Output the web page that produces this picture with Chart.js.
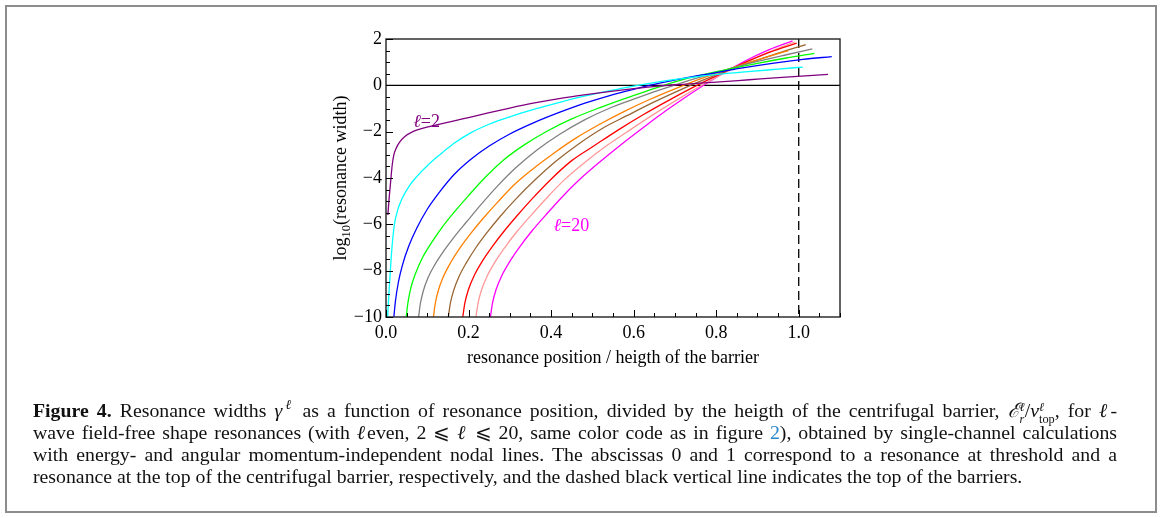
<!DOCTYPE html>
<html><head><meta charset="utf-8">
<script src="https://cdn.jsdelivr.net/npm/chart.js@4/dist/chart.umd.min.js"></script>
<style>
html,body{margin:0;padding:0;background:#fff;}
body{width:1165px;height:518px;position:relative;overflow:hidden;}
#box{position:absolute;left:5px;top:5px;width:1148px;height:504px;border:2px solid #8c8c8c;}
#c{position:absolute;left:0;top:0;}
#cap{position:absolute;left:33px;top:399px;width:1084px;font-family:'Liberation Serif','Times New Roman',serif;font-size:19.8px;line-height:22px;color:#111;}
.j,.l{height:22px;overflow:visible;white-space:normal;}
.j{text-align:justify;text-align-last:justify;}
.l{text-align:left;}
sup{font-size:0.68em;line-height:0;vertical-align:0.6em;}
.ss{display:inline-block;font-size:0.62em;line-height:0.95em;vertical-align:-0.45em;text-align:left;}
.sym{line-height:0;}
.lnk{color:#2a86c8;}
</style></head>
<body>
<div id="box"></div>
<canvas id="c" width="1165" height="518"></canvas>
<div id="cap">
<div class="j"><b>Figure 4.</b> Resonance widths <i>γ</i><sup><i>ℓ</i></sup> as a function of resonance position, divided by the heigth of the centrifugal barrier, <i>ℰ</i><span class="ss"><i>ℓ</i><br><i>r</i></span>/<i>ν</i><span class="ss"><i>ℓ</i><br>top</span>, for <i>ℓ</i>-</div>
<div class="j">wave field-free shape resonances (with <i>ℓ</i>even, 2 <span class="sym">⩽</span> <i>ℓ</i> <span class="sym">⩽</span> 20, same color code as in figure <span class="lnk">2</span>), obtained by single-channel calculations</div>
<div class="j">with energy- and angular momentum-independent nodal lines. The abscissas 0 and 1 correspond to a resonance at threshold and a</div>
<div class="l">resonance at the top of the centrifugal barrier, respectively, and the dashed black vertical line indicates the top of the barriers.</div>
</div>
<script>
// ---- data ----
const ellValues = [2, 4, 6, 8, 10, 12, 14, 16, 18, 20];
const xTickValues = [0, 0.2, 0.4, 0.6, 0.8, 1.0];
const yTickValues = [-10, -8, -6, -4, -2, 0, 2];
const xRange = [0, 1.1];
const yRange = [-10, 2];
const barrierTop = 1.0;

const x_l2 = [0.0045,0.007,0.01,0.0125,0.015,0.019,0.025,0.033,0.045,0.065,0.09,0.12,0.16,0.2,0.245,0.3,0.36,0.423,0.48,0.54,0.6,0.66,0.72,0.8,0.88,0.96,1.071];
const y_l2 = [-5.6,-5.0,-4.4,-3.9,-3.45,-3.0,-2.7,-2.45,-2.22,-2.0,-1.85,-1.72,-1.56,-1.39,-1.2,-0.98,-0.76,-0.56,-0.41,-0.27,-0.14,-0.03,0.045,0.14,0.24,0.34,0.475];

const x_l4 = [0.004,0.007,0.0105,0.0145,0.02,0.028,0.04,0.055,0.075,0.1,0.13,0.165,0.205,0.25,0.3,0.36,0.423,0.48,0.54,0.6,0.66,0.73,0.81,0.884,0.95,1.01];
const y_l4 = [-10,-9.0,-8.0,-7.0,-6.05,-5.4,-4.85,-4.38,-3.93,-3.47,-3.0,-2.5,-2.05,-1.68,-1.36,-1.03,-0.72,-0.47,-0.24,-0.03,0.15,0.32,0.48,0.6,0.7,0.79];

const x_l6 = [0.019,0.023,0.03,0.04,0.055,0.075,0.1,0.13,0.165,0.205,0.25,0.3,0.36,0.423,0.48,0.54,0.6,0.66,0.72,0.79,0.86,0.94,1.01,1.08];
const y_l6 = [-10,-9.3,-8.5,-7.75,-6.95,-6.15,-5.35,-4.6,-3.85,-3.2,-2.62,-2.1,-1.6,-1.15,-0.78,-0.45,-0.17,0.08,0.3,0.52,0.74,0.96,1.12,1.24];

const x_l8 = [0.049,0.053,0.06,0.072,0.088,0.11,0.135,0.165,0.2,0.24,0.285,0.335,0.39,0.45,0.52,0.58,0.64,0.7,0.76,0.83,0.9,0.97,1.038];
const y_l8 = [-10,-9.4,-8.75,-8.1,-7.45,-6.8,-6.15,-5.48,-4.76,-3.98,-3.22,-2.57,-1.98,-1.45,-0.95,-0.56,-0.2,0.15,0.43,0.7,0.95,1.18,1.38];

const x_l10 = [0.079,0.083,0.09,0.102,0.118,0.14,0.165,0.195,0.23,0.27,0.315,0.365,0.42,0.48,0.54,0.6,0.66,0.72,0.78,0.84,0.9,0.97,1.033];
const y_l10 = [-10,-9.45,-8.9,-8.3,-7.75,-7.15,-6.55,-5.9,-5.15,-4.35,-3.55,-2.8,-2.12,-1.5,-1.0,-0.6,-0.22,0.13,0.45,0.75,1.03,1.32,1.57];

const x_l12 = [0.115,0.119,0.126,0.138,0.155,0.178,0.205,0.235,0.27,0.31,0.355,0.405,0.46,0.52,0.58,0.64,0.7,0.76,0.82,0.88,0.93,0.975];
const y_l12 = [-10,-9.45,-8.9,-8.3,-7.7,-7.05,-6.4,-5.75,-5.05,-4.3,-3.62,-2.95,-2.28,-1.66,-1.1,-0.6,-0.15,0.27,0.65,0.99,1.26,1.5];

const x_l14 = [0.151,0.156,0.164,0.177,0.195,0.218,0.245,0.277,0.315,0.36,0.41,0.465,0.525,0.585,0.645,0.705,0.765,0.825,0.885,0.95,1.017];
const y_l14 = [-10,-9.4,-8.85,-8.25,-7.65,-7.0,-6.35,-5.65,-4.9,-4.1,-3.3,-2.55,-1.85,-1.3,-0.76,-0.26,0.2,0.62,1.0,1.39,1.76];

const x_l16 = [0.186,0.191,0.2,0.214,0.233,0.257,0.285,0.318,0.355,0.4,0.45,0.505,0.565,0.625,0.685,0.745,0.805,0.865,0.93,0.995];
const y_l16 = [-10,-9.4,-8.8,-8.2,-7.6,-6.97,-6.32,-5.62,-4.88,-4.05,-3.25,-2.6,-1.9,-1.25,-0.65,-0.08,0.45,0.95,1.43,1.82];

const x_l18 = [0.218,0.223,0.232,0.246,0.265,0.289,0.318,0.352,0.39,0.432,0.48,0.535,0.595,0.655,0.715,0.775,0.835,0.895,0.945,0.99];
const y_l18 = [-10,-9.4,-8.8,-8.2,-7.6,-6.97,-6.3,-5.6,-4.85,-4.08,-3.35,-2.6,-1.88,-1.18,-0.52,0.1,0.66,1.17,1.56,1.87];

const x_l20 = [0.253,0.258,0.267,0.281,0.3,0.324,0.353,0.387,0.425,0.467,0.515,0.57,0.63,0.69,0.75,0.81,0.87,0.93,0.985];
const y_l20 = [-10,-9.4,-8.8,-8.2,-7.6,-6.97,-6.3,-5.6,-4.85,-4.1,-3.35,-2.55,-1.73,-0.95,-0.22,0.45,1.05,1.55,1.92];

const seriesX = [x_l2, x_l4, x_l6, x_l8, x_l10, x_l12, x_l14, x_l16, x_l18, x_l20];
const seriesY = [y_l2, y_l4, y_l6, y_l8, y_l10, y_l12, y_l14, y_l16, y_l18, y_l20];

// annotation texts (anchored in data coordinates)
const curveLabels = [
  {series: 0, text: '=2', at: [0.066, -1.8]},
  {series: 9, text: '=20', at: [0.406, -6.3]}
];
const xTitle = 'resonance position / heigth of the barrier';
const yTitleParts = ['log', '10', '(resonance width)'];

// ---- styles ----
const lineColors = ['#800080','#00ffff','#0000ff','#00ff00','#808080','#ff8000','#996633','#ff0000','#ff9999','#ff00ff'];
const FONT = "'Liberation Serif', 'Times New Roman', serif";

const framePlugin = {
  id: 'frame',
  beforeDatasetsDraw(chart) {
    const {ctx, chartArea: a, scales: {x, y}} = chart;
    ctx.save();
    ctx.strokeStyle = '#000';
    ctx.lineWidth = 1.3;
    const y0 = y.getPixelForValue(0);
    ctx.beginPath(); ctx.moveTo(a.left, y0); ctx.lineTo(a.right, y0); ctx.stroke();
    const xb = x.getPixelForValue(barrierTop);
    ctx.setLineDash([9, 5]);
    ctx.beginPath(); ctx.moveTo(xb, a.top); ctx.lineTo(xb, a.bottom); ctx.stroke();
    ctx.restore();
  },
  afterDatasetsDraw(chart) {
    const {ctx, chartArea: a, scales: {x, y}} = chart;
    ctx.save();
    ctx.strokeStyle = '#222';
    ctx.lineWidth = 1.4;
    ctx.strokeRect(a.left, a.top, a.right - a.left, a.bottom - a.top);
    ctx.lineWidth = 1;
    ctx.strokeStyle = '#000';
    for (let k = 0; k <= 22; k++) {
      const v = xRange[0] + k * 0.05;
      const px = Math.round(x.getPixelForValue(v)) + 0.5;
      const len = (k % 4 === 0) ? 7 : 4;
      ctx.beginPath(); ctx.moveTo(px, a.bottom); ctx.lineTo(px, a.bottom - len); ctx.stroke();
    }
    for (let k = 0; k <= 24; k++) {
      const v = yRange[0] + k * 0.5;
      const py = Math.round(y.getPixelForValue(v)) + 0.5;
      const len = (k % 4 === 0) ? 7 : 4;
      ctx.beginPath(); ctx.moveTo(a.left, py); ctx.lineTo(a.left + len, py); ctx.stroke();
    }
    ctx.textBaseline = 'alphabetic';
    ctx.textAlign = 'left';
    curveLabels.forEach(lb => {
      const px = x.getPixelForValue(lb.at[0]);
      const py = y.getPixelForValue(lb.at[1]);
      ctx.fillStyle = lineColors[lb.series];
      ctx.font = 'italic 18px ' + FONT;
      ctx.fillText('ℓ', px, py);
      const w = ctx.measureText('ℓ').width;
      ctx.font = '18px ' + FONT;
      ctx.fillText(lb.text, px + w, py);
    });
    ctx.fillStyle = '#000';
    ctx.font = '18px ' + FONT;
    ctx.textAlign = 'center';
    ctx.fillText(xTitle, (a.left + a.right) / 2, a.bottom + 46);
    ctx.translate(a.left - 40, (a.top + a.bottom) / 2);
    ctx.rotate(-Math.PI / 2);
    ctx.textAlign = 'left';
    ctx.font = '18px ' + FONT;
    const w0 = ctx.measureText(yTitleParts[0]).width;
    const w2 = ctx.measureText(yTitleParts[2]).width;
    ctx.font = '12.5px ' + FONT;
    const w1 = ctx.measureText(yTitleParts[1]).width;
    let sx = -(w0 + w1 + w2) / 2;
    ctx.font = '18px ' + FONT;
    ctx.fillText(yTitleParts[0], sx, 0);
    ctx.font = '12.5px ' + FONT;
    ctx.fillText(yTitleParts[1], sx + w0, 4);
    ctx.font = '18px ' + FONT;
    ctx.fillText(yTitleParts[2], sx + w0 + w1, 0);
    ctx.restore();
  }
};

new Chart(document.getElementById('c'), {
  type: 'scatter',
  data: {
    datasets: ellValues.map((l, i) => ({
      label: 'ℓ=' + l,
      data: seriesX[i].map((xv, k) => ({x: xv, y: seriesY[i][k]})),
      showLine: true,
      borderColor: lineColors[i],
      backgroundColor: lineColors[i],
      borderWidth: 1.3,
      pointRadius: 0,
      pointHoverRadius: 0,
      cubicInterpolationMode: 'monotone',
      fill: false
    }))
  },
  options: {
    responsive: false,
    animation: false,
    devicePixelRatio: 1,
    events: [],
    layout: {padding: {top: 39, right: 325, bottom: 141, left: 0}},
    plugins: {legend: {display: false}, tooltip: {enabled: false}},
    scales: {
      x: {
        type: 'linear', min: xRange[0], max: xRange[1],
        afterFit(s) { s.height = 60; },
        afterBuildTicks(s) { s.ticks = xTickValues.map(v => ({value: v})); },
        grid: {display: false, drawTicks: false},
        border: {display: false},
        ticks: {padding: 5, color: '#000', maxRotation: 0, autoSkip: false,
          font: {family: FONT, size: 18}, callback: v => Number(v).toFixed(1)}
      },
      y: {
        type: 'linear', min: yRange[0], max: yRange[1],
        afterFit(s) { s.width = 386; },
        afterBuildTicks(s) { s.ticks = yTickValues.map(v => ({value: v})); },
        grid: {display: false, drawTicks: false},
        border: {display: false},
        ticks: {padding: 4, color: '#000', autoSkip: false,
          font: {family: FONT, size: 18}, callback: v => (v < 0 ? '−' + Math.abs(v) : String(v))}
      }
    }
  },
  plugins: [framePlugin]
});
</script>
</body></html>
